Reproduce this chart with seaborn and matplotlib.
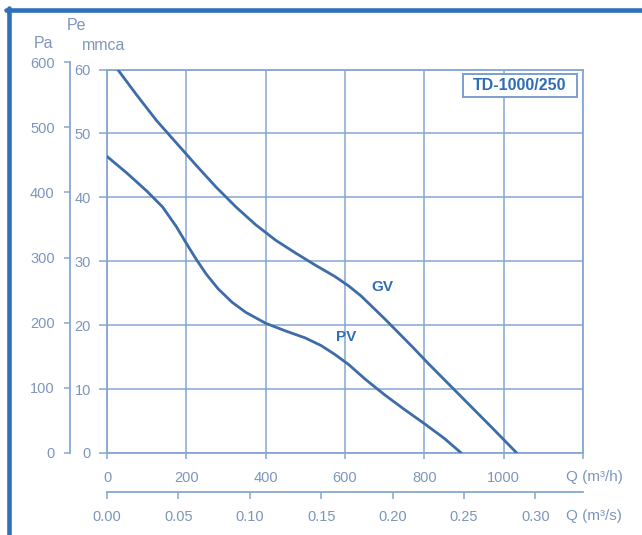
import numpy as np
import pandas as pd
import matplotlib
matplotlib.use("Agg")
import matplotlib.pyplot as plt
import seaborn as sns
from matplotlib.lines import Line2D
from matplotlib.patches import Rectangle

# fan curve data: Q in m3/h, Pe in mmca
gv_q = [27, 75, 125, 175, 225, 275, 325, 375, 425, 475, 525, 575, 610, 640, 670, 700, 735, 770, 810, 850, 890, 930, 970, 1000, 1033]
gv_pe = [60, 56.0, 52.0, 48.5, 45.0, 41.6, 38.5, 35.7, 33.3, 31.3, 29.4, 27.6, 26.1, 24.6, 22.8, 21.0, 18.8, 16.6, 14.0, 11.5, 9.0, 6.5, 4.0, 2.1, 0]

pv_q = [0, 50, 100, 140, 175, 200, 225, 250, 280, 315, 350, 400, 450, 500, 540, 575, 610, 650, 700, 750, 800, 850, 893]
pv_pe = [46.4, 43.8, 41.0, 38.5, 35.4, 32.8, 30.3, 28.0, 25.7, 23.6, 22.0, 20.3, 19.1, 18.0, 16.8, 15.4, 13.8, 11.6, 9.1, 6.8, 4.6, 2.3, 0]

q_ticks = [0, 200, 400, 600, 800, 1000]
pe_ticks = [0, 10, 20, 30, 40, 50, 60]
pa_ticks = [0, 100, 200, 300, 400, 500, 600]
qs_ticks = [0.00, 0.05, 0.10, 0.15, 0.20, 0.25, 0.30]
model = "TD-1000/250"

sns.set_theme(style="white")
plt.rcParams['font.family'] = ['Liberation Sans', 'DejaVu Sans']

W, H = 642, 535
def fx(x):
    return x / W
def fy(y):
    return 1 - y / H

line_col = '#3d6ca8'
grid_col = '#86a7d2'
tick_col = '#7d95bd'
label_blue = '#2f6db5'

fig = plt.figure(figsize=(W / 100, H / 100), dpi=100)
fig.patch.set_facecolor('white')

ax = fig.add_axes([fx(107), fy(453), fx(583) - fx(107), fy(69.5) - fy(453)])
ax.set_xlim(0, 1200)
ax.set_ylim(0, 60)

df = pd.concat([
    pd.DataFrame({'Q': gv_q, 'Pe': gv_pe, 'curve': 'GV'}),
    pd.DataFrame({'Q': pv_q, 'Pe': pv_pe, 'curve': 'PV'}),
])
sns.lineplot(data=df, x='Q', y='Pe', units='curve', estimator=None, sort=False,
             color=line_col, linewidth=2.0, ax=ax, legend=False, zorder=3)

ax.set_xticks(q_ticks + [1200])
ax.set_xticklabels([str(t) for t in q_ticks] + [''])
ax.set_yticks(pe_ticks)
ax.set_yticklabels([str(t) for t in pe_ticks])
ax.grid(True, color=grid_col, linewidth=1.1)
ax.set_axisbelow(True)
for s in ax.spines.values():
    s.set_color(grid_col)
    s.set_linewidth(1.3)
ax.tick_params(axis='y', direction='out', length=6, width=1.1, color=grid_col,
               labelcolor=tick_col, labelsize=10.5, pad=5.5, left=True)
ax.tick_params(axis='x', direction='out', length=4, width=1.1, color=grid_col,
               labelcolor=tick_col, labelsize=10.5, pad=9, bottom=True)
ax.set_xlabel('')
ax.set_ylabel('')

ax.text(695, 26.0, 'GV', color=label_blue, fontsize=11, fontweight='bold',
        ha='center', va='center')
ax.text(604, 18.2, 'PV', color=label_blue, fontsize=11, fontweight='bold',
        ha='center', va='center')

# secondary Q axis in m3/s
sec = ax.secondary_xaxis(-(491.7 - 453) / 383.5, functions=(lambda q: q / 3600, lambda s: s * 3600))
sec.set_xticks(qs_ticks)
sec.set_xticklabels([f'{t:.2f}' for t in qs_ticks])
sec.spines['bottom'].set_color(grid_col)
sec.spines['bottom'].set_linewidth(1.3)
sec.tick_params(axis='x', direction='out', length=5, width=1.1, color=grid_col,
                labelcolor=tick_col, labelsize=10.5, pad=8.5)

# Pa axis on the far left
ax_pa = fig.add_axes([fx(70), fy(453), 0.0001, fy(62) - fy(453)])
ax_pa.set_ylim(0, 600)
ax_pa.set_yticks(pa_ticks)
ax_pa.set_yticklabels([str(t) for t in pa_ticks])
ax_pa.set_xticks([])
ax_pa.patch.set_alpha(0)
for k in ['top', 'right', 'bottom']:
    ax_pa.spines[k].set_visible(False)
ax_pa.spines['left'].set_color(grid_col)
ax_pa.spines['left'].set_linewidth(1.3)
ax_pa.tick_params(axis='y', direction='out', length=4, width=1.1, color=grid_col,
                  labelcolor=tick_col, labelsize=10.5, pad=7, left=True)

# unit labels
fig.text(fx(44), fy(44), 'Pa', color=tick_col, fontsize=11.5, ha='center', va='center')
fig.text(fx(76), fy(25), 'Pe', color=tick_col, fontsize=11.5, ha='center', va='center')
fig.text(fx(104), fy(46), 'mmca', color=tick_col, fontsize=11.5, ha='center', va='center')
fig.text(fx(566), fy(477), 'Q (m³/h)', color=tick_col, fontsize=11, ha='left', va='center')
fig.text(fx(566), fy(516), 'Q (m³/s)', color=tick_col, fontsize=11, ha='left', va='center')

# model box
fig.patches.append(Rectangle((fx(462.7), fy(97.3)), fx(576.7) - fx(462.7), fy(74) - fy(97.3),
                             transform=fig.transFigure, facecolor='white', edgecolor='#7b9fcf',
                             linewidth=1.4, zorder=5))
fig.text(fx(519.7), fy(86), model, color=label_blue, fontsize=11.5, fontweight='bold',
         ha='center', va='center', zorder=6)

# blue outer frame
fig.add_artist(Line2D([fx(6), 1], [fy(9.5), fy(9.5)], color='#2f70b9', linewidth=3.3,
                      transform=fig.transFigure))
fig.add_artist(Line2D([fx(8.5), fx(8.5)], [fy(8), 0], color='#2f70b9', linewidth=3.3,
                      transform=fig.transFigure))

fig.savefig('out.png', dpi=100, facecolor='white')
